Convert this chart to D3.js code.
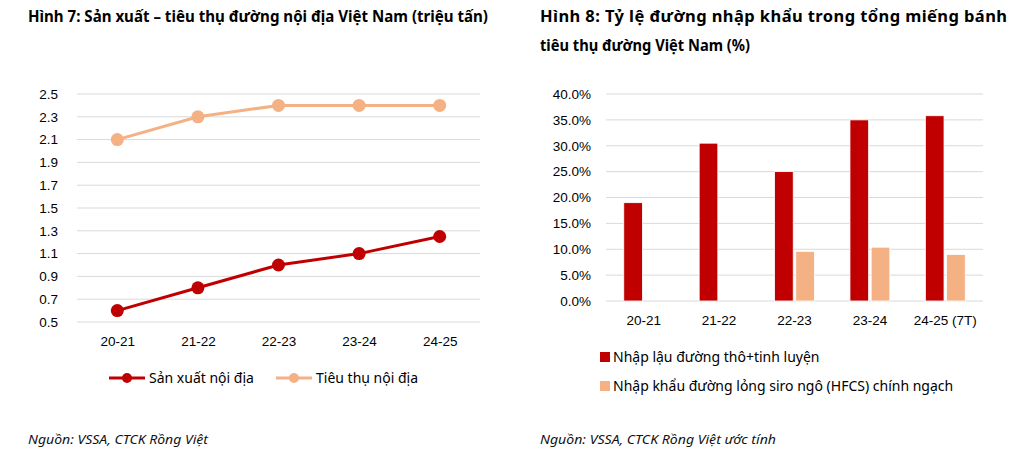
<!DOCTYPE html>
<html>
<head>
<meta charset="utf-8">
<script src="https://cdn.jsdelivr.net/npm/d3@7"></script>
<style>
  body { margin: 0; background: #fff; }
  svg { font-family: "Noto Sans", "Open Sans", sans-serif; }
  .grid line { stroke: #d9d9d9; stroke-width: 1; }
  .tick text { fill: #000; font-size: 13.5px; }
</style>
</head>
<body>
<svg id="chart" width="1018" height="463"></svg>
<script>
// left chart data
const seasons = ['20-21', '21-22', '22-23', '23-24', '24-25'];
const production = [0.6, 0.8, 1.0, 1.1, 1.25];
const consumption = [2.1, 2.3, 2.4, 2.4, 2.4];
const lineTicks = [0.5, 0.7, 0.9, 1.1, 1.3, 1.5, 1.7, 1.9, 2.1, 2.3, 2.5];

// right chart data
const seasons2 = ['20-21', '21-22', '22-23', '23-24', '24-25 (7T)'];
const smuggled = [19.0, 30.5, 25.0, 35.0, 35.8];
const hfcs = [0, 0, 9.6, 10.4, 9.0];
const pctTicks = [0, 5, 10, 15, 20, 25, 30, 35, 40];

const RED = '#c00000';
const PEACH = '#f4b183';

const svg = d3.select('#chart');

// ---------- titles & sources ----------
svg.append('text')
  .attr('x', 28).attr('y', 22)
  .attr('font-weight', 'bold').attr('font-size', 15.5).attr('fill', '#000')
  .attr('textLength', 460).attr('lengthAdjust', 'spacingAndGlyphs')
  .text('Hình 7: Sản xuất – tiêu thụ đường nội địa Việt Nam (triệu tấn)');

svg.append('text')
  .attr('x', 540).attr('y', 22)
  .attr('font-weight', 'bold').attr('font-size', 16.5).attr('fill', '#000')
  .attr('textLength', 467).attr('lengthAdjust', 'spacing')
  .text('Hình 8: Tỷ lệ đường nhập khẩu trong tổng miếng bánh');

svg.append('text')
  .attr('x', 540).attr('y', 51)
  .attr('font-weight', 'bold').attr('font-size', 16.5).attr('fill', '#000')
  .attr('textLength', 210).attr('lengthAdjust', 'spacingAndGlyphs')
  .text('tiêu thụ đường Việt Nam (%)');

svg.append('text')
  .attr('x', 28).attr('y', 444)
  .attr('font-style', 'italic').attr('font-size', 12.5).attr('fill', '#111')
  .attr('textLength', 180).attr('lengthAdjust', 'spacingAndGlyphs')
  .text('Nguồn: VSSA, CTCK Rồng Việt');

svg.append('text')
  .attr('x', 540).attr('y', 444)
  .attr('font-style', 'italic').attr('font-size', 12.5).attr('fill', '#111')
  .attr('textLength', 236).attr('lengthAdjust', 'spacingAndGlyphs')
  .text('Nguồn: VSSA, CTCK Rồng Việt ước tính');

// ---------- left: line chart ----------
const x1 = d3.scalePoint().domain(seasons).range([77, 480]).padding(0.5);
const y1 = d3.scaleLinear().domain([0.5, 2.5]).range([322, 94]);

svg.append('g').attr('class', 'grid')
  .selectAll('line').data(lineTicks).enter().append('line')
    .attr('x1', 77).attr('x2', 480)
    .attr('y1', d => y1(d)).attr('y2', d => y1(d));

svg.append('g')
  .attr('transform', 'translate(77,0)')
  .call(d3.axisLeft(y1).tickValues(lineTicks).tickFormat(d3.format('.1f')).tickSize(0).tickPadding(19))
  .call(g => g.select('.domain').remove());

svg.append('g')
  .attr('transform', 'translate(0,322)')
  .call(d3.axisBottom(x1).tickSize(0).tickPadding(14))
  .call(g => g.select('.domain').remove());

const line = d3.line().x((d, i) => x1(seasons[i])).y(d => y1(d));

[[consumption, PEACH], [production, RED]].forEach(([vals, col]) => {
  svg.append('path')
    .datum(vals)
    .attr('fill', 'none').attr('stroke', col).attr('stroke-width', 3)
    .attr('d', line);
  svg.append('g').selectAll('circle').data(vals).enter().append('circle')
    .attr('cx', (d, i) => x1(seasons[i]))
    .attr('cy', d => y1(d))
    .attr('r', 6.5)
    .attr('fill', col);
});

// legend
const lineLegend = [
  { label: 'Sản xuất nội địa', color: RED, x: 109 },
  { label: 'Tiêu thụ nội địa', color: PEACH, x: 276 }
];
const ll = svg.append('g').selectAll('g').data(lineLegend).enter().append('g')
  .attr('transform', d => 'translate(' + d.x + ',378)');
ll.append('line').attr('x1', 0).attr('x2', 36)
  .attr('stroke', d => d.color).attr('stroke-width', 3);
ll.append('circle').attr('cx', 18).attr('r', 5).attr('fill', d => d.color);
ll.append('text').attr('x', 40).attr('dy', '0.35em')
  .attr('font-size', 14).attr('fill', '#000')
  .text(d => d.label);

// ---------- right: bar chart ----------
const x2 = d3.scaleBand().domain(seasons2).range([606, 983]);
const y2 = d3.scaleLinear().domain([0, 40]).range([301, 94]);

svg.append('g').attr('class', 'grid')
  .selectAll('line').data(pctTicks).enter().append('line')
    .attr('x1', 606).attr('x2', 983)
    .attr('y1', d => y2(d)).attr('y2', d => y2(d));

svg.append('g')
  .attr('transform', 'translate(606,0)')
  .call(d3.axisLeft(y2).tickValues(pctTicks).tickFormat(d => d.toFixed(1) + '%').tickSize(0).tickPadding(15))
  .call(g => g.select('.domain').remove());

svg.append('g')
  .attr('transform', 'translate(0,301)')
  .call(d3.axisBottom(x2).tickSize(0).tickPadding(14))
  .call(g => g.select('.domain').remove());

const sub = d3.scaleBand().domain(['a', 'b']).range([-21, 21]).paddingInner(0.12).paddingOuter(0.05);

const barSeries = [
  { key: 'a', vals: smuggled, color: RED },
  { key: 'b', vals: hfcs, color: PEACH }
];
barSeries.forEach(s => {
  const rows = s.vals.map((v, i) => ({ cat: seasons2[i], v: v })).filter(r => r.v > 0);
  svg.append('g').selectAll('rect').data(rows).enter().append('rect')
    .attr('x', r => x2(r.cat) + x2.bandwidth() / 2 + sub(s.key))
    .attr('width', sub.bandwidth())
    .attr('y', r => y2(r.v))
    .attr('height', r => y2(0) - y2(r.v))
    .attr('fill', s.color)
    .attr('stroke', '#fff').attr('stroke-width', 0.8);
});

// legend
const barLegend = [
  { label: 'Nhập lậu đường thô+tinh luyện', color: RED, y: 357 },
  { label: 'Nhập khẩu đường lỏng siro ngô (HFCS) chính ngạch', color: PEACH, y: 386 }
];
const bl = svg.append('g').selectAll('g').data(barLegend).enter().append('g')
  .attr('transform', d => 'translate(600,' + d.y + ')');
bl.append('rect').attr('x', 0).attr('y', -5).attr('width', 10).attr('height', 10)
  .attr('fill', d => d.color);
bl.append('text').attr('x', 13).attr('dy', '0.35em')
  .attr('font-size', 14).attr('fill', '#000')
  .text(d => d.label);
</script>
</body>
</html>
